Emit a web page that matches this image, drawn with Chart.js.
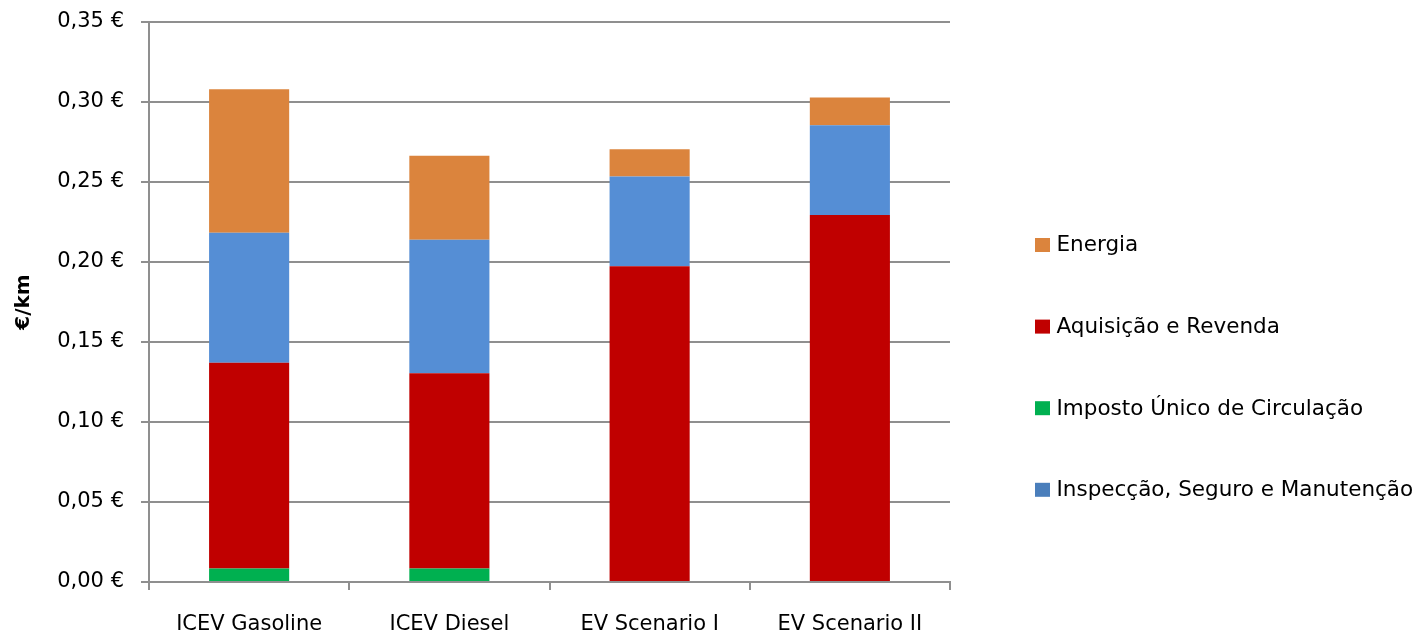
<!DOCTYPE html>
<html>
<head>
<meta charset="utf-8">
<title>Custo por km</title>
<script src="https://cdn.jsdelivr.net/npm/chart.js@4/dist/chart.umd.min.js"></script>
<style>
  html, body { margin: 0; padding: 0; background: #ffffff; }
  #wrap { width: 1418px; height: 634px; }
</style>
</head>
<body>
<div id="wrap"><canvas id="chart" width="1418" height="634"></canvas></div>
<script>
// Categories (vehicle cases)
const categories = ['ICEV Gasoline', 'ICEV Diesel', 'EV Scenario I', 'EV Scenario II'];

// Cost components in €/km, stacked bottom to top
const impostoUnico = [0.0084, 0.0084, 0, 0];
const aquisicaoRevenda = [0.1286, 0.1221, 0.1974, 0.2293];
const inspeccaoSeguroManutencao = [0.0813, 0.0834, 0.0560, 0.0562];
const energia = [0.0897, 0.0525, 0.0171, 0.0173];

// Y axis ticks
const yTicks = [0, 0.05, 0.10, 0.15, 0.20, 0.25, 0.30, 0.35];
const yTickLabels = ['0,00 €', '0,05 €', '0,10 €', '0,15 €', '0,20 €', '0,25 €', '0,30 €', '0,35 €'];

// Legend entries, in display order
const legendLabels = ['Energia', 'Aquisição e Revenda', 'Imposto Único de Circulação', 'Inspecção, Seguro e Manutenção'];
const legendColors = ['#DB843D', '#C00000', '#00B050', '#4A7EBB'];

const FONT = 'DejaVu Sans';
const GRID = '#8f8f8f';

Chart.defaults.font.family = FONT;
Chart.defaults.color = '#000000';

// Legend drawn to the right of the plot area
const sideLegend = {
  id: 'sideLegend',
  afterDraw(chart) {
    const ctx = chart.ctx;
    const area = chart.chartArea;
    const x0 = area.right + 85;
    const top = 238;
    const step = 81.6;
    ctx.save();
    ctx.font = '21.5px "' + FONT + '"';
    ctx.textBaseline = 'alphabetic';
    ctx.textAlign = 'left';
    legendLabels.forEach((label, i) => {
      const y = top + i * step;
      ctx.fillStyle = legendColors[i];
      ctx.fillRect(x0, y, 15, 14);
      ctx.fillStyle = '#000000';
      ctx.fillText(label, x0 + 21.5, y + 13.3);
    });
    ctx.restore();
  }
};

new Chart(document.getElementById('chart'), {
  type: 'bar',
  data: {
    labels: categories,
    datasets: [
      { label: 'Imposto Único de Circulação', data: impostoUnico, backgroundColor: '#00B050' },
      { label: 'Aquisição e Revenda', data: aquisicaoRevenda, backgroundColor: '#C00000' },
      { label: 'Inspecção, Seguro e Manutenção', data: inspeccaoSeguroManutencao, backgroundColor: '#558ED5' },
      { label: 'Energia', data: energia, backgroundColor: '#DB843D' }
    ]
  },
  options: {
    responsive: false,
    animation: false,
    layout: { padding: { left: 0, top: 22, right: 468, bottom: 0 } },
    datasets: {
      bar: { barPercentage: 0.4, categoryPercentage: 1.0, borderWidth: 0 }
    },
    plugins: {
      legend: { display: false },
      tooltip: { enabled: false }
    },
    scales: {
      x: {
        stacked: true,
        afterFit(scale) { scale.height = 52; },
        grid: {
          offset: true,
          drawOnChartArea: false,
          drawTicks: true,
          tickLength: 8,
          color: GRID,
          lineWidth: 2
        },
        border: { display: true, color: GRID, width: 2 },
        ticks: {
          font: { size: 21 },
          color: '#000000',
          padding: 22,
          maxRotation: 0,
          autoSkip: false
        }
      },
      y: {
        stacked: true,
        min: 0,
        max: 0.35,
        afterFit(scale) {
          scale.width = 149;
          scale.paddingTop = 0;
          scale.paddingBottom = 0;
        },
        afterBuildTicks(scale) {
          scale.ticks = yTicks.map(v => ({ value: v }));
        },
        grid: {
          drawTicks: true,
          tickLength: 8,
          color: GRID,
          lineWidth: 2
        },
        border: { display: true, color: GRID, width: 2 },
        ticks: {
          font: { size: 21 },
          color: '#000000',
          padding: 17,
          callback(value) {
            const i = yTicks.findIndex(t => Math.abs(t - value) < 1e-9);
            return i >= 0 ? yTickLabels[i] : '';
          }
        },
        title: {
          display: true,
          text: '€/km',
          color: '#000000',
          font: { size: 20, weight: 'bold' },
          padding: { top: 12, bottom: 0 }
        }
      }
    }
  },
  plugins: [sideLegend]
});
</script>
</body>
</html>
